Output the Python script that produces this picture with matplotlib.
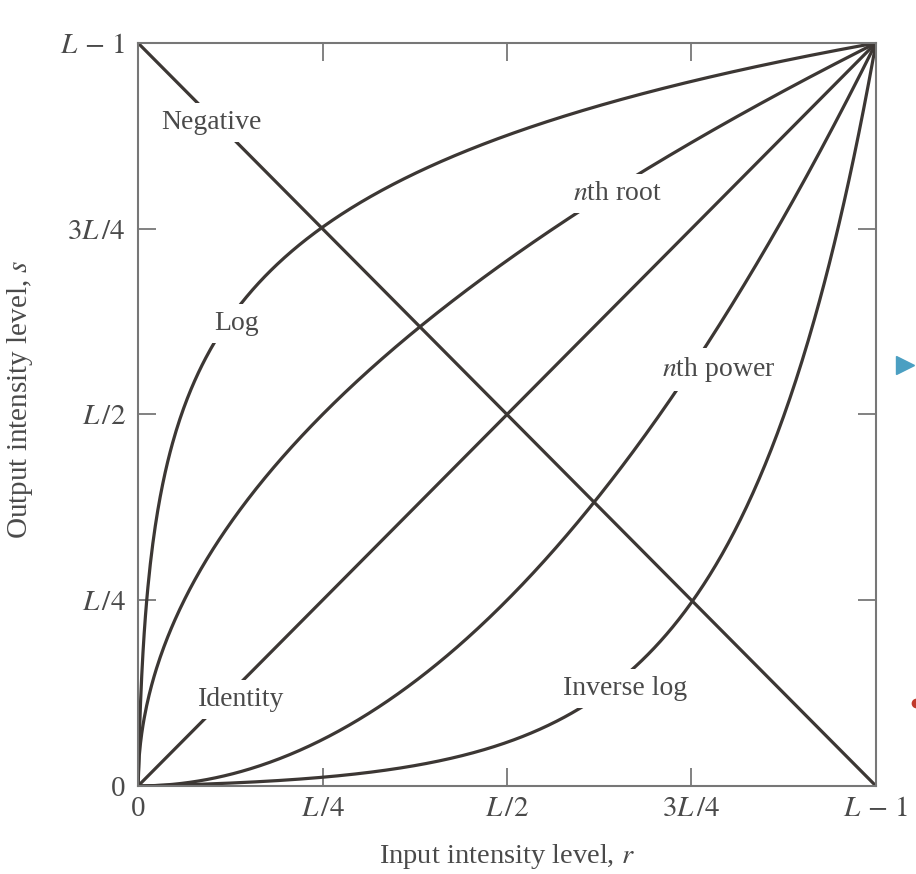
import numpy as np
import matplotlib.pyplot as plt
from matplotlib.lines import Line2D

plt.rcParams['font.family'] = ['Liberation Serif', 'DejaVu Serif']
plt.rcParams['mathtext.fontset'] = 'stix'

# tick positions (fractions of L-1) and labels
tick_pos = [0, 0.25, 0.5, 0.75, 1.0]
x_tick_labels = ['0', r'$L\,/4$', r'$L\,/2$', r'$3L\,/4$', r'$L\,-\,1$']
y_tick_labels = ['0', r'$L\,/4$', r'$L\,/2$', r'$3L\,/4$', r'$L\,-\,1$']

# transform parameters
log_base = 256       # s = log(1 + 255 r) / log(256)
root_n = 2           # nth root / nth power exponent

# curve labels and where they sit
curve_names = ['Negative', r'$n$th root', 'Log', r'$n$th power', 'Identity', 'Inverse log']
label_x = [0.099, 0.649, 0.133, 0.787, 0.140, 0.660]
label_y = [0.893, 0.797, 0.623, 0.561, 0.117, 0.131]

r = np.linspace(0, 1, 600)
curves = [
    1 - r,
    r ** (1 / root_n),
    np.log(1 + (log_base - 1) * r) / np.log(log_base),
    r ** root_n,
    r,
    (log_base ** r - 1) / (log_base - 1),
]

line_col = '#3c3734'
spine_col = '#777777'
text_col = '#4a4a4a'

fig = plt.figure(figsize=(9.16, 8.74), dpi=100)
ax = fig.add_axes([0.1507, 0.1007, 0.8056, 0.8501])

for c in curves:
    ax.plot(r, c, color=line_col, lw=2.3, solid_capstyle='butt', zorder=2)

for name, tx, ty in zip(curve_names, label_x, label_y):
    ax.text(tx, ty, name, fontsize=20, color=text_col, ha='center', va='center',
            zorder=3, bbox=dict(facecolor='white', edgecolor='none', pad=5))

ax.set_xlim(0, 1)
ax.set_ylim(0, 1)
ax.set_xticks(tick_pos)
ax.set_yticks(tick_pos)
ax.set_xticklabels(x_tick_labels)
ax.set_yticklabels(y_tick_labels)
ax.tick_params(direction='in', length=13, width=1.3, color=spine_col,
               top=True, right=True, labelsize=21, labelcolor=text_col)
ax.tick_params(axis='x', pad=7)
ax.tick_params(axis='y', pad=9)
for sp in ax.spines.values():
    sp.set_color(spine_col)
    sp.set_linewidth(1.5)

ax.set_xlabel(r'Input intensity level, $r$', fontsize=20.5, color=text_col)
ax.set_ylabel(r'Output intensity level, $s$', fontsize=21, color=text_col)
ax.xaxis.set_label_coords(0.5, -0.076)
ax.yaxis.set_label_coords(-0.14, 0.52)

# screenshot leftovers at the right edge
fig.add_artist(Line2D([0.9885], [0.582], marker='>', markersize=13, color='#4b9fc2',
                      transform=fig.transFigure))
fig.add_artist(Line2D([1.0], [0.196], marker='o', markersize=6, color='#c0392b',
                      transform=fig.transFigure))

fig.savefig('out.png', dpi=100)
